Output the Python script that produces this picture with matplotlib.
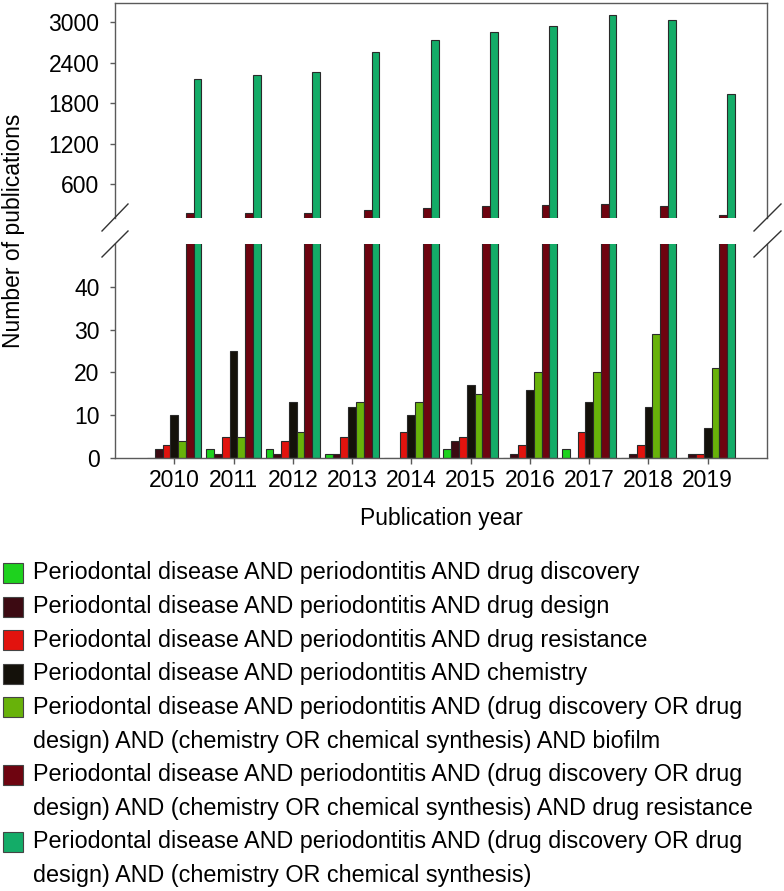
import numpy as np
import matplotlib
matplotlib.use('Agg')
import matplotlib.pyplot as plt
from matplotlib.patches import Rectangle

plt.rcParams['font.family'] = ['Liberation Sans', 'DejaVu Sans']

years = ['2010', '2011', '2012', '2013', '2014', '2015', '2016', '2017', '2018', '2019']

# publications per year, one list per search query
drug_discovery = [0, 2, 2, 1, 0, 2, 0, 2, 0, 0]
drug_design = [2, 1, 1, 1, 0, 4, 1, 0, 1, 1]
drug_resistance = [3, 5, 4, 5, 6, 5, 3, 6, 3, 1]
chemistry = [10, 25, 13, 12, 10, 17, 16, 13, 12, 7]
combo_biofilm = [4, 5, 6, 13, 13, 15, 20, 20, 29, 21]
combo_resistance = [172, 172, 172, 221, 255, 280, 299, 309, 280, 147]
combo_all = [2164, 2223, 2262, 2557, 2739, 2848, 2946, 3108, 3034, 1943]

series = [drug_discovery, drug_design, drug_resistance, chemistry,
          combo_biofilm, combo_resistance, combo_all]
colors = ['#1ed21e', '#3c0a12', '#e2130e', '#14110a',
          '#68b20a', '#6e0410', '#14ac68']
labels = [
    'Periodontal disease AND periodontitis AND drug discovery',
    'Periodontal disease AND periodontitis AND drug design',
    'Periodontal disease AND periodontitis AND drug resistance',
    'Periodontal disease AND periodontitis AND chemistry',
    'Periodontal disease AND periodontitis AND (drug discovery OR drug\n'
    'design) AND (chemistry OR chemical synthesis) AND biofilm',
    'Periodontal disease AND periodontitis AND (drug discovery OR drug\n'
    'design) AND (chemistry OR chemical synthesis) AND drug resistance',
    'Periodontal disease AND periodontitis AND (drug discovery OR drug\n'
    'design) AND (chemistry OR chemical synthesis)',
]

W, H = 784, 891
fig = plt.figure(figsize=(W / 100, H / 100), dpi=100)

def fbox(x0, y0, x1, y1):
    """pixel box (top-left origin) -> figure rect"""
    return [x0 / W, 1 - y1 / H, (x1 - x0) / W, (y1 - y0) / H]

ax_top = fig.add_axes(fbox(115, 3, 767, 218))
ax_bot = fig.add_axes(fbox(115, 244, 767, 458))

x = np.arange(len(years))
n = len(series)
bw = 0.131
spine_c = '#5a5a5a'
fs = 16.5
fs_leg = 16.8

for ax in (ax_top, ax_bot):
    for i, (vals, col) in enumerate(zip(series, colors)):
        ax.bar(x + (i - (n - 1) / 2) * bw, vals, bw, color=col,
               edgecolor='#2a2a2a', lw=0.8)
    ax.set_xlim(-1, len(years))
    for s in ax.spines.values():
        s.set_color(spine_c)
        s.set_linewidth(1.0)
    ax.tick_params(axis='y', labelsize=fs, length=3.6, width=1.0,
                   color=spine_c, pad=7.5)

ax_top.set_ylim(105, 3280)
ax_top.set_yticks([600, 1200, 1800, 2400, 3000])
ax_top.spines['bottom'].set_visible(False)
ax_top.tick_params(axis='x', bottom=False, labelbottom=False)

ax_bot.set_ylim(0, 50)
ax_bot.set_yticks([0, 10, 20, 30, 40])
ax_bot.spines['top'].set_visible(False)
ax_bot.set_xticks(x)
ax_bot.set_xticklabels(years)
ax_bot.tick_params(axis='x', labelsize=fs, length=4.3, width=1.0,
                   color=spine_c, pad=3.5)

# break marks
for (xa, xb) in [(102, 128), (754, 781)]:
    for (ya, yb) in [(231, 204), (257, 231)]:
        fig.add_artist(plt.Line2D([xa / W, xb / W], [1 - ya / H, 1 - yb / H],
                                  color='#333333', lw=1.0))

fig.text(441 / W, 1 - 518 / H, 'Publication year', ha='center', va='center',
         fontsize=fs)
fig.text(14 / W, 1 - 231 / H, 'Number of publications', ha='center',
         va='center', rotation=90, fontsize=fs)

# legend, drawn by hand
line_h = 33.6
yy = 573
for lab, col in zip(labels, colors):
    fig.add_artist(Rectangle((3 / W, 1 - (yy + 10) / H), 20 / W, 20 / H,
                             facecolor=col, edgecolor='#444444', lw=0.8,
                             transform=fig.transFigure))
    for line in lab.split('\n'):
        fig.text(33 / W, 1 - yy / H, line, ha='left', va='center',
                 fontsize=fs_leg)
        yy += line_h

fig.savefig('out.png', dpi=100)
